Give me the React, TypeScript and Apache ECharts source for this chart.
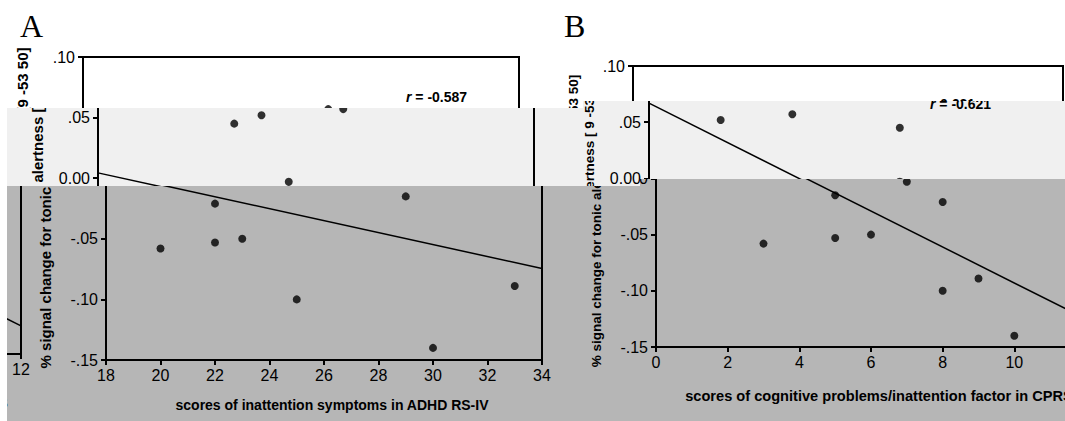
import React, { useEffect, useRef } from 'react';
import * as echarts from 'echarts';

// ---- data ----
const aXTicks = [18, 20, 22, 24, 26, 28, 30, 32, 34];
const bXTicks = [0, 2, 4, 6, 8, 10, 12];
const yTicks = [-0.15, -0.1, -0.05, 0, 0.05, 0.1];
const adhdScores = [20, 22, 22, 23, 25, 29, 30, 33, 23, 24, 25, 27];
const cprsScores = [3, 8, 5, 6, 8, 5, 10, 9, 7, 2, 7, 4];
const signalChange = [-0.058, -0.021, -0.053, -0.05, -0.1, -0.015, -0.14, -0.089, 0.045, 0.052, -0.003, 0.057];
const aFitX = [18, 34];
const aFitY = [0.0044, -0.0745];
const bFitX = [0, 12];
const bFitY = [0.0669, -0.125];
const rA = '-0.587';
const rB = '-0.621';

const FONT = '"Liberation Sans", Arial, sans-serif';
const SERIF = '"Liberation Serif", "Times New Roman", serif';

function fmt(v: number) {
  if (Math.abs(v) < 1e-9) return '0.00';
  const s = Math.abs(v).toFixed(2).replace(/^0/, '');
  return (v < 0 ? '-' : '') + s;
}

function xAxisFor(grid: number, ticks: number[]) {
  return {
    gridIndex: grid,
    type: 'value',
    min: ticks[0],
    max: ticks[ticks.length - 1],
    interval: ticks[1] - ticks[0],
    axisLine: { show: true, onZero: false, lineStyle: { color: '#000', width: 2 } },
    axisTick: { show: true, inside: false, length: 5, lineStyle: { color: '#000', width: 2 } },
    splitLine: { show: false },
    axisLabel: { color: '#000', fontSize: 16, fontFamily: FONT, margin: 7 },
  };
}

function yAxisFor(grid: number) {
  return {
    gridIndex: grid,
    type: 'value',
    min: yTicks[0],
    max: yTicks[yTicks.length - 1],
    interval: 0.05,
    axisLine: { show: true, onZero: false, lineStyle: { color: '#000', width: 2 } },
    axisTick: { show: true, inside: false, length: 5, lineStyle: { color: '#000', width: 2 } },
    splitLine: { show: false },
    axisLabel: { color: '#000', fontSize: 16, fontFamily: FONT, margin: 8, formatter: fmt },
  };
}

function buildOption() {
  const grid = {
    show: true,
    borderColor: '#000',
    borderWidth: 2,
    backgroundColor: 'transparent',
  };
  const rich = { i: { fontStyle: 'italic', fontWeight: 'bold', fontSize: 14, fontFamily: FONT } };
  return {
    animation: false,
    grid: [
      { ...grid, left: 83, top: 57, width: 436, height: 303 },
      { ...grid, left: 633, top: 66, width: 430, height: 281 },
    ],
    xAxis: [xAxisFor(0, aXTicks), xAxisFor(1, bXTicks)],
    yAxis: [yAxisFor(0), yAxisFor(1)],
    series: [
      {
        type: 'scatter', xAxisIndex: 0, yAxisIndex: 0,
        data: adhdScores.map((x, i) => [x, signalChange[i]]),
        symbolSize: 8, itemStyle: { color: '#000' }, silent: true,
      },
      {
        type: 'line', xAxisIndex: 0, yAxisIndex: 0,
        data: aFitX.map((x, i) => [x, aFitY[i]]),
        symbol: 'none', lineStyle: { color: '#000', width: 1.5 }, silent: true,
      },
      {
        type: 'scatter', xAxisIndex: 1, yAxisIndex: 1,
        data: cprsScores.map((x, i) => [x, signalChange[i]]),
        symbolSize: 8, itemStyle: { color: '#000' }, silent: true,
      },
      {
        type: 'line', xAxisIndex: 1, yAxisIndex: 1,
        data: bFitX.map((x, i) => [x, bFitY[i]]),
        symbol: 'none', lineStyle: { color: '#000', width: 1.5 }, silent: true,
      },
    ],
    graphic: [
      { type: 'text', x: 20, y: 10, style: { text: 'A', font: `32px ${SERIF}`, fill: '#000', align: 'left', verticalAlign: 'top' } },
      { type: 'text', x: 564, y: 10, style: { text: 'B', font: `32px ${SERIF}`, fill: '#000', align: 'left', verticalAlign: 'top' } },
      {
        type: 'text', x: 406, y: 97,
        style: { text: '{i|r} = ' + rA, font: `bold 14px ${FONT}`, fill: '#000', align: 'left', verticalAlign: 'middle', rich },
      },
      {
        type: 'text', x: 914, y: 104,
        style: { text: '{i|r} = ' + rB, font: `bold 14px ${FONT}`, fill: '#000', align: 'left', verticalAlign: 'middle', rich },
      },
      {
        type: 'text', x: 22, y: 208, rotation: Math.PI / 2,
        style: { text: '% signal change for tonic alertness [9 -53 50]', font: `bold 15px ${FONT}`, fill: '#000', align: 'center', verticalAlign: 'middle' },
      },
      {
        type: 'text', x: 573, y: 221, rotation: Math.PI / 2,
        style: { text: '% signal change for tonic alertness [ 9 -53 50]', font: `bold 13.5px ${FONT}`, fill: '#000', align: 'center', verticalAlign: 'middle' },
      },
      {
        type: 'text', x: 309, y: 405,
        style: { text: 'scores of inattention symptoms in ADHD RS-IV', font: `bold 14px ${FONT}`, fill: '#000', align: 'center', verticalAlign: 'middle' },
      },
      {
        type: 'text', x: 856, y: 396,
        style: { text: 'scores of cognitive problems/inattention factor in CPRS', font: `bold 14.6px ${FONT}`, fill: '#000', align: 'center', verticalAlign: 'middle' },
      },
    ],
  };
}

function ChartLayer({ left, top }: { left: number; top: number }) {
  const ref = useRef<HTMLDivElement>(null);
  useEffect(() => {
    if (!ref.current) return;
    const chart = echarts.init(ref.current, null, { renderer: 'svg', width: 1110, height: 430 });
    chart.setOption(buildOption() as any);
    return () => chart.dispose();
  }, []);
  return <div ref={ref} style={{ position: 'absolute', left, top, width: 1110, height: 430 }} />;
}

type Copy = [number, number];
function Band({ x, y, w, h, bg, copies }: { x: number; y: number; w: number; h: number; bg: string; copies: Copy[] }) {
  return (
    <div style={{ position: 'absolute', left: x, top: y, width: w, height: h, overflow: 'hidden', background: bg }}>
      {copies.map(([dx, dy], i) => (
        <ChartLayer key={i} left={dx - x} top={dy - y} />
      ))}
    </div>
  );
}

export default function App() {
  const light = '#f0f0f0';
  const gray = '#b6b6b6';
  return (
    <div style={{ position: 'fixed', left: 0, top: 0, width: 1065, height: 421, overflow: 'hidden', background: '#fff' }}>
      <Band x={0} y={0} w={1065} h={421} bg="#fff" copies={[[0, 0]]} />
      <Band x={7} y={108} w={576} h={78} bg={light} copies={[[15, 0]]} />
      <Band x={583} y={101} w={57} h={85} bg={light} copies={[[16, 0]]} />
      <Band x={640} y={101} w={425} h={78} bg={light} copies={[[16, 0]]} />
      <Band x={7} y={186} w={633} h={235} bg={gray} copies={[[23, 0], [23 - 1065, 7]]} />
      <Band x={640} y={179} w={425} h={242} bg={gray} copies={[[23, 0]]} />
    </div>
  );
}
